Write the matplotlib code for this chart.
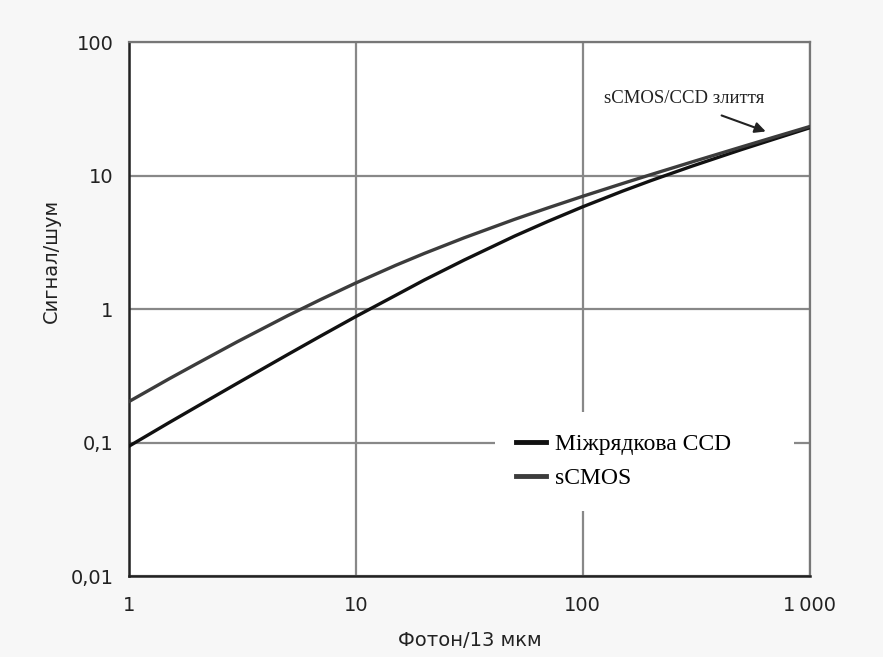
import matplotlib
matplotlib.use("Agg")
import matplotlib.pyplot as plt
from matplotlib.ticker import FixedLocator, NullLocator

# photons per 13 um pixel vs. signal-to-noise
photons = [1, 1.5, 2, 3, 5, 7, 10, 15, 20, 30, 50, 70, 100, 150, 200, 300, 500, 700, 1000]
snr_ccd = [0.094, 0.141, 0.187, 0.278, 0.456, 0.629, 0.88, 1.27, 1.65, 2.33, 3.52, 4.53,
           5.84, 7.66, 9.18, 11.7, 15.65, 18.8, 22.8]
snr_scmos = [0.203, 0.300, 0.392, 0.569, 0.892, 1.18, 1.57, 2.13, 2.61, 3.42, 4.70, 5.72,
             7.0, 8.73, 10.18, 12.59, 16.38, 19.45, 23.3]

x_ticks = [1, 10, 100, 1000]
x_tick_labels = ["1", "10", "100", "1\u2009000"]
y_ticks = [0.01, 0.1, 1, 10, 100]
y_tick_labels = ["0,01", "0,1", "1", "10", "100"]

series_labels = ["Міжрядкова CCD", "sCMOS"]

sans = ["DejaVu Sans"]
serif = ["Liberation Serif", "DejaVu Serif"]

fig = plt.figure(figsize=(8.83, 6.57), dpi=100, facecolor="#f7f7f7")
ax = fig.add_axes([0.146, 0.123, 0.771, 0.813], facecolor="white")

ax.set_xscale("log")
ax.set_yscale("log")
ax.set_xlim(1, 1000)
ax.set_ylim(0.01, 100)

ax.plot(photons, snr_ccd, color="#111111", linewidth=2.4, label=series_labels[0], zorder=3)
ax.plot(photons, snr_scmos, color="#3c3c3c", linewidth=2.4, label=series_labels[1], zorder=3)

ax.xaxis.set_major_locator(FixedLocator(x_ticks))
ax.yaxis.set_major_locator(FixedLocator(y_ticks))
ax.xaxis.set_minor_locator(NullLocator())
ax.yaxis.set_minor_locator(NullLocator())
ax.set_xticklabels(x_tick_labels, fontfamily=sans, fontsize=14, color="#222222")
ax.set_yticklabels(y_tick_labels, fontfamily=sans, fontsize=14, color="#222222")
ax.tick_params(length=0)
ax.tick_params(axis="y", pad=11)
ax.tick_params(axis="x", pad=14)

ax.grid(True, color="#888888", linewidth=1.6)
ax.set_axisbelow(True)

for side in ["left", "bottom"]:
    ax.spines[side].set_color("#222222")
    ax.spines[side].set_linewidth(1.8)
for side in ["top", "right"]:
    ax.spines[side].set_color("#777777")
    ax.spines[side].set_linewidth(1.6)

ax.set_xlabel("Фотон/13 мкм", fontfamily=sans, fontsize=14, color="#222222")
ax.xaxis.set_label_coords(0.5, -0.103)
ax.set_ylabel("Сигнал/шум", fontfamily=sans, fontsize=14, color="#222222")
ax.yaxis.set_label_coords(-0.1, 0.59)

# legend box spans the lower right, hiding the grid behind it
leg = ax.legend(loc="upper left", bbox_to_anchor=(0.537, 0.307, 0.44, 0.0), mode="expand",
                frameon=True, prop={"family": serif, "size": 17}, handlelength=1.3,
                handletextpad=0.35, labelspacing=0.55, borderpad=0.9, borderaxespad=0)
leg.get_frame().set_edgecolor("none")
leg.get_frame().set_facecolor("white")
leg.get_frame().set_alpha(1.0)
leg.get_frame().set_boxstyle("square", pad=0)
for line in leg.get_lines():
    line.set_linewidth(3.5)

ax.text(281, 37.7, "sCMOS/CCD злиття", ha="center", va="center",
        fontfamily=serif, fontsize=13.5, color="#222222")
ax.annotate("", xy=(640, 21.4), xytext=(409, 28.2),
            arrowprops=dict(arrowstyle="-|>", color="#222222", lw=1.5, mutation_scale=16,
                            shrinkA=0, shrinkB=0))

fig.savefig("out.png", dpi=100, facecolor=fig.get_facecolor())
